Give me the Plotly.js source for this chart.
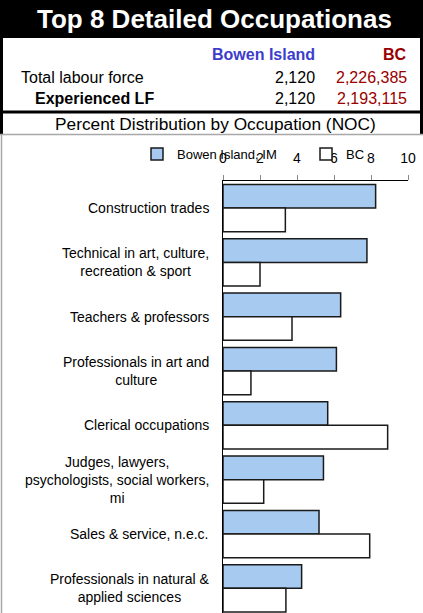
<!DOCTYPE html>
<html>
<head>
<meta charset="utf-8">
<script src="https://cdn.plot.ly/plotly-3.0.1.min.js"></script>
<style>
  html, body { margin: 0; padding: 0; background: #fff; }
  #chart { width: 423px; height: 613px; }
</style>
</head>
<body>
<div id="chart"></div>
<script>
// ---- Data ----
const chartTitle = 'Top 8 Detailed Occupationas';
const subTitle = 'Percent Distribution by Occupation (NOC)';
const tableCols = ['Bowen Island', 'BC'];
const tableRows = ['Total labour force', 'Experienced LF'];
const bowenCounts = ['2,120', '2,120'];
const bcCounts = ['2,226,385', '2,193,115'];

const categories = [
  'Construction trades',
  'Technical in art, culture, recreation & sport',
  'Teachers & professors',
  'Professionals in art and culture',
  'Clerical occupations',
  'Judges, lawyers, psychologists, social workers, mi',
  'Sales & service, n.e.c.',
  'Professionals in natural & applied sciences'
];
const categoryLabels = [
  'Construction trades',
  'Technical in art, culture,<br>recreation & sport',
  'Teachers & professors',
  'Professionals in art and<br>culture',
  'Clerical occupations',
  'Judges, lawyers,<br>psychologists, social workers,<br>mi',
  'Sales & service, n.e.c.',
  'Professionals in natural &<br>applied sciences'
];
const seriesNames = ['Bowen Island, IM', 'BC'];
const bowenPct = [8.25, 7.78, 6.36, 6.13, 5.66, 5.43, 5.19, 4.25];
const bcPct    = [3.37, 2.00, 3.73, 1.51, 8.90, 2.20, 7.93, 3.40];
const xTicks = [0, 2, 4, 6, 8, 10];

// ---- Layout helpers (pixel -> paper) ----
const W = 423, H = 613;
const M = { l: 223, r: 15, t: 181, b: 0 };
const PW = W - M.l - M.r, PH = H - M.t - M.b;
const xp = px => (px - M.l) / PW;
const yp = py => (H - M.b - py) / PH;

const FONT = 'Liberation Sans, Arial, Helvetica, sans-serif';
const BLUE = '#3D3DCC';
const RED = '#990000';

const traces = [
  {
    type: 'bar', orientation: 'h', name: seriesNames[0],
    y: categories, x: bowenPct, legend: 'legend',
    marker: { color: '#A6CAF0', line: { color: '#1a1a1a', width: 1.5 } },
    hoverinfo: 'skip'
  },
  {
    type: 'bar', orientation: 'h', name: seriesNames[1],
    y: categories, x: bcPct, legend: 'legend2',
    marker: { color: '#FFFFFF', line: { color: '#1a1a1a', width: 1.5 } },
    hoverinfo: 'skip'
  }
];

const shapes = [
  { type: 'rect', xref: 'paper', yref: 'paper', x0: xp(0), x1: xp(W), y0: yp(0), y1: yp(38),
    fillcolor: '#000', line: { width: 0 }, layer: 'below' },
  { type: 'rect', xref: 'paper', yref: 'paper', x0: xp(0), x1: xp(3), y0: yp(38), y1: yp(134),
    fillcolor: '#000', line: { width: 0 } },
  { type: 'rect', xref: 'paper', yref: 'paper', x0: xp(420), x1: xp(W), y0: yp(38), y1: yp(134),
    fillcolor: '#000', line: { width: 0 } },
  { type: 'line', xref: 'paper', yref: 'paper', x0: xp(0), x1: xp(W), y0: yp(112), y1: yp(112),
    line: { color: '#000', width: 3 } },
  { type: 'line', xref: 'paper', yref: 'paper', x0: xp(0), x1: xp(W), y0: yp(134.5), y1: yp(134.5),
    line: { color: '#a8a8a8', width: 1.5 } },
  { type: 'line', xref: 'paper', yref: 'paper', x0: xp(1.5), x1: xp(1.5), y0: yp(134.5), y1: yp(H),
    line: { color: '#a8a8a8', width: 1.5 } }
];

const ann = (text, px, py, opts) => Object.assign({
  text: text, xref: 'paper', yref: 'paper', x: xp(px), y: yp(py),
  showarrow: false, yanchor: 'middle', xanchor: 'left',
  font: { family: FONT, size: 16, color: '#000' }
}, opts || {});

const annotations = [
  ann('<b>' + chartTitle + '</b>', 214.5, 19, { xanchor: 'center', font: { family: FONT, size: 26, color: '#fff' } }),
  ann('<b>' + tableCols[0] + '</b>', 317, 55, { xanchor: 'right', font: { family: FONT, size: 16, color: BLUE } }),
  ann('<b>' + tableCols[1] + '</b>', 409, 55, { xanchor: 'right', font: { family: FONT, size: 16, color: RED } }),
  ann(tableRows[0], 19, 77.5),
  ann('<b>' + tableRows[1] + '</b>', 33, 98),
  ann(bowenCounts[0], 317, 77.5, { xanchor: 'right' }),
  ann(bowenCounts[1], 317, 98, { xanchor: 'right' }),
  ann(bcCounts[0], 409, 77.5, { xanchor: 'right', font: { family: FONT, size: 16, color: RED } }),
  ann(bcCounts[1], 409, 98, { xanchor: 'right', font: { family: FONT, size: 16, color: RED } }),
  ann(subTitle, 215.5, 124, { xanchor: 'center', font: { family: FONT, size: 17.3, color: '#000' } })
];

// category labels, centred multi-line text placed on the category axis
categories.forEach((c, i) => {
  annotations.push({
    text: categoryLabels[i], xref: 'paper', yref: 'y', x: xp(211), y: c,
    xanchor: 'right', yanchor: 'middle', align: 'center', showarrow: false,
    font: { family: FONT, size: 14, color: '#000' }
  });
});

const legendBase = {
  orientation: 'h', xanchor: 'left', yanchor: 'middle',
  bgcolor: 'rgba(0,0,0,0)', font: { family: FONT, size: 13, color: '#000' },
  itemwidth: 30
};

const layout = {
  width: W, height: H,
  margin: M,
  paper_bgcolor: '#fff', plot_bgcolor: '#fff',
  font: { family: FONT, size: 14, color: '#000' },
  barmode: 'group', bargap: 0.13, bargroupgap: 0,
  showlegend: true,
  legend: Object.assign({}, legendBase, { x: xp(177 - 40), y: yp(154) }),
  legend2: Object.assign({}, legendBase, { x: xp(346 - 40), y: yp(154) }),
  xaxis: {
    side: 'top', range: [0, 10], tickvals: xTicks, ticktext: xTicks.map(String),
    showgrid: false, zeroline: false,
    showline: true, linecolor: '#000', linewidth: 1.5,
    ticks: 'outside', ticklen: 5, tickcolor: '#888', tickwidth: 1,
    tickfont: { family: FONT, size: 14, color: '#000' },
    ticklabelstandoff: 6,
    fixedrange: true
  },
  yaxis: {
    type: 'category', range: [7.454, -0.4985],
    showgrid: false, zeroline: false,
    showline: true, linecolor: '#000', linewidth: 1.5,
    ticks: '', showticklabels: false,
    fixedrange: true
  },
  shapes: shapes,
  annotations: annotations
};

Plotly.newPlot('chart', traces, layout, { displayModeBar: false, staticPlot: true });
</script>
</body>
</html>
